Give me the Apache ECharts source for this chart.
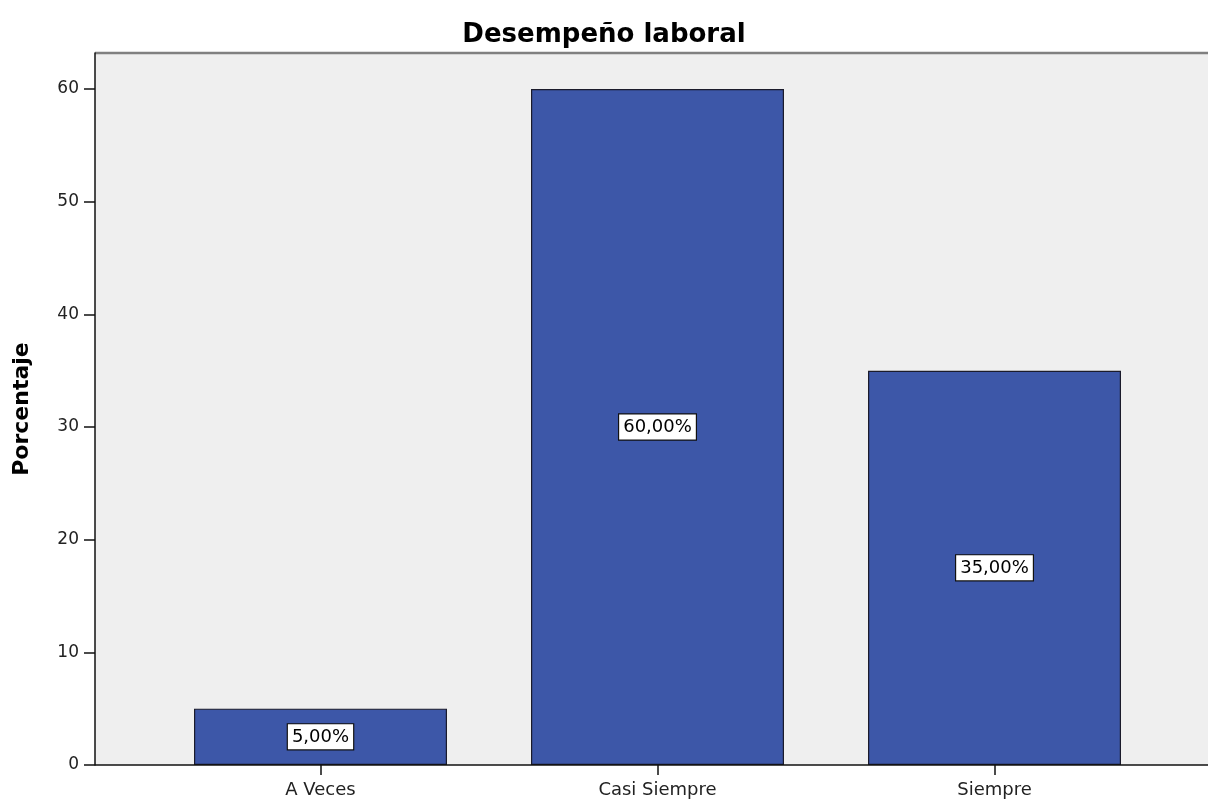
<!DOCTYPE html>
<html>
<head>
<meta charset="utf-8">
<title>Desempeño laboral</title>
<script src="https://cdn.jsdelivr.net/npm/echarts@6/dist/echarts.min.js"></script>
<style>
  html, body { margin: 0; padding: 0; background: #fff; }
  #main { width: 1208px; height: 799px; }
</style>
</head>
<body>
<div id="main"></div>
<script>
let categories = ['A Veces', 'Casi Siempre', 'Siempre'];
let percents = [5, 60, 35];
let yTicks = [0, 10, 20, 30, 40, 50, 60];

let chart = echarts.init(document.getElementById('main'));
let font = 'DejaVu Sans';

// plot frame in pixels (SPSS style: frame wider than the bar band)
let frameLeft = 95, frameTop = 53, frameBottom = 765, frameRight = 1208;

let option = {
    animation: false,
    textStyle: { fontFamily: font },
    title: {
        text: 'Desempeño laboral',
        left: 'center',
        top: 17,
        textStyle: { fontFamily: font, fontSize: 26, fontWeight: 'bold', color: '#000' }
    },
    graphic: [
        {
            type: 'rect', z: -10,
            shape: { x: frameLeft, y: frameTop, width: frameRight - frameLeft, height: frameBottom - frameTop },
            style: { fill: '#efefef' }
        },
        {
            type: 'line', z: -5,
            shape: { x1: frameLeft, y1: frameTop, x2: frameRight, y2: frameTop },
            style: { stroke: '#808080', lineWidth: 2.5 }
        },
        {
            type: 'line', z: 50,
            shape: { x1: frameLeft, y1: frameBottom, x2: frameRight, y2: frameBottom },
            style: { stroke: '#111', lineWidth: 1.5 }
        }
    ],
    grid: {
        left: 152,
        right: 45,
        top: frameTop,
        bottom: 799 - frameBottom,
        containLabel: false,
        outerBoundsMode: 'none'
    },
    xAxis: {
        type: 'category',
        data: categories,
        axisLine: { show: false },
        axisTick: { show: true, alignWithLabel: true, length: 10, lineStyle: { color: '#111', width: 1.5 } },
        axisLabel: { fontFamily: font, fontSize: 18, color: '#222', margin: 16 }
    },
    yAxis: {
        type: 'value',
        min: 0,
        max: 63.2,
        interval: 10,
        offset: 57,
        name: 'Porcentaje',
        nameLocation: 'middle',
        nameGap: 62,
        nameTextStyle: { fontFamily: font, fontSize: 22, fontWeight: 'bold', color: '#000' },
        splitLine: { show: false },
        axisLine: { show: true, lineStyle: { color: '#111', width: 1.5 } },
        axisTick: { show: true, length: 11, customValues: yTicks, lineStyle: { color: '#111', width: 1.5 } },
        axisLabel: { fontFamily: font, fontSize: 17, color: '#222', margin: 16, customValues: yTicks }
    },
    series: [
        {
            type: 'bar',
            data: percents,
            barWidth: 253,
            itemStyle: { color: '#3d57a8', borderColor: '#1b1b2b', borderWidth: 1.2 },
            label: {
                show: true,
                position: 'inside',
                formatter: function (p) {
                    return p.value.toFixed(2).replace('.', ',') + '%';
                },
                fontFamily: font,
                fontSize: 18,
                color: '#000',
                backgroundColor: '#fff',
                borderColor: '#111',
                borderWidth: 1.2,
                padding: [4, 4, 3, 4]
            }
        }
    ]
};

chart.setOption(option);
</script>
</body>
</html>
